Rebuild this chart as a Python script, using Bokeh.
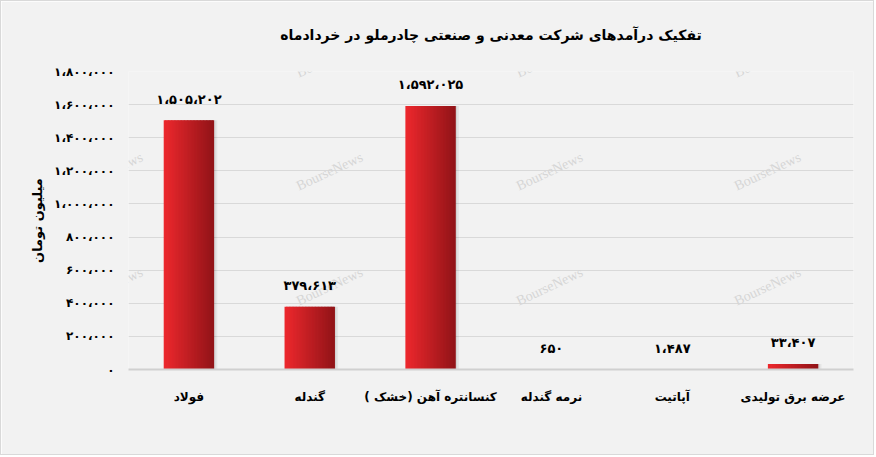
from bokeh.plotting import figure
from bokeh.models import ColumnDataSource, FixedTicker, LabelSet, Label, FactorRange, Range1d
from bokeh.transform import dodge
from bokeh.core.properties import value
from bokeh.embed import file_html
from bokeh.resources import INLINE

title_text = "تفکیک درآمدهای شرکت معدنی و صنعتی چادرملو در خردادماه"
y_label = "میلیون تومان"
categories = ["فولاد", "گندله", "کنسانتره آهن (خشک )", "نرمه گندله", "آپاتیت", "عرضه برق تولیدی"]
revenues = [1505202, 379613, 1592025, 650, 1487, 33407]
y_ticks = [0, 200000, 400000, 600000, 800000, 1000000, 1200000, 1400000, 1600000, 1800000]
watermark = "BourseNews"

FA = str.maketrans("0123456789", "۰۱۲۳۴۵۶۷۸۹")


def fa(n):
    return f"{n:,}".replace(",", "،").translate(FA)


FONT = "DejaVu Sans"
BG = "#f2f2f2"

p = figure(x_range=FactorRange(*categories), y_range=Range1d(0, y_ticks[-1]),
           width=874, height=455, output_backend="svg", toolbar_location=None,
           min_border_left=127, min_border_right=22, min_border_top=70, min_border_bottom=87,
           background_fill_color=BG, border_fill_color=BG, outline_line_color=None,
           title=title_text + "\n")
p.styles = {"border": "1px solid #d9d9d9"}
p.title.align = "center"
p.title.text_font = FONT
p.title.text_font_style = "bold"
p.title.text_font_size = "14px"
p.title.text_color = "black"
p.title.standoff = 25

src = ColumnDataSource(dict(cat=categories, val=revenues, lab=[fa(v) for v in revenues]))

# shadow
bw = 0.41
p.vbar(x=dodge("cat", 0.03, range=p.x_range), top="val", width=bw, source=src,
       fill_color="black", fill_alpha=0.05, line_color=None)
p.vbar(x=dodge("cat", 0.015, range=p.x_range), top="val", width=bw, source=src,
       fill_color="black", fill_alpha=0.08, line_color=None)

# gradient bars built from strips
n = 34
c0 = (0xec, 0x28, 0x2d)
c1 = (0x93, 0x14, 0x18)
for i in range(n):
    t = i / (n - 1)
    col = "#%02x%02x%02x" % tuple(int(round(a + (b - a) * t)) for a, b in zip(c0, c1))
    off = -bw / 2 + bw / n * (i + 0.5)
    p.vbar(x=dodge("cat", off, range=p.x_range), top="val", width=bw / n * 1.6, source=src,
           fill_color=col, line_color=None)

labels = LabelSet(x="cat", y="val", text="lab", source=src, y_offset=21,
                  text_align="center", text_baseline="middle",
                  text_font=value(FONT), text_font_style="bold", text_font_size="13px",
                  text_color="black")
p.add_layout(labels)

# axes
p.yaxis.ticker = FixedTicker(ticks=y_ticks)
p.yaxis.major_label_overrides = {t: fa(t) for t in y_ticks}
p.yaxis.axis_line_color = None
p.yaxis.major_tick_line_color = None
p.yaxis.minor_tick_line_color = None
p.yaxis.major_label_standoff = 8
p.yaxis.major_label_text_font = FONT
p.yaxis.major_label_text_font_style = "bold"
p.yaxis.major_label_text_font_size = "12px"
p.yaxis.major_label_text_color = "black"
p.yaxis.axis_label = y_label
p.yaxis.axis_label_text_font = FONT
p.yaxis.axis_label_text_font_style = "bold"
p.yaxis.axis_label_text_font_size = "13px"
p.yaxis.axis_label_text_color = "black"
p.yaxis.axis_label_standoff = 6

p.xaxis.axis_line_color = "#d0d0d0"
p.xaxis.axis_line_width = 2
p.xaxis.major_tick_line_color = None
p.xaxis.major_label_standoff = 14
p.xaxis.major_label_text_font = FONT
p.xaxis.major_label_text_font_style = "bold"
p.xaxis.major_label_text_font_size = "12px"
p.xaxis.major_label_text_color = "black"

p.ygrid.grid_line_color = "#d9d9d9"
p.xgrid.grid_line_color = None

# watermarks (faint, behind the bars)
for wy in [56, 169, 284, 397]:
    for wx in [107, 327, 547, 765]:
        p.add_layout(Label(x=wx, y=wy, x_units="canvas", y_units="canvas", text=watermark,
                           angle=25, angle_units="deg", text_align="center",
                           text_baseline="middle", text_font="Liberation Serif",
                           text_font_size="14px", text_color="#d6d6d6", level="underlay"))

open("out.html", "w").write(file_html(p, INLINE))
